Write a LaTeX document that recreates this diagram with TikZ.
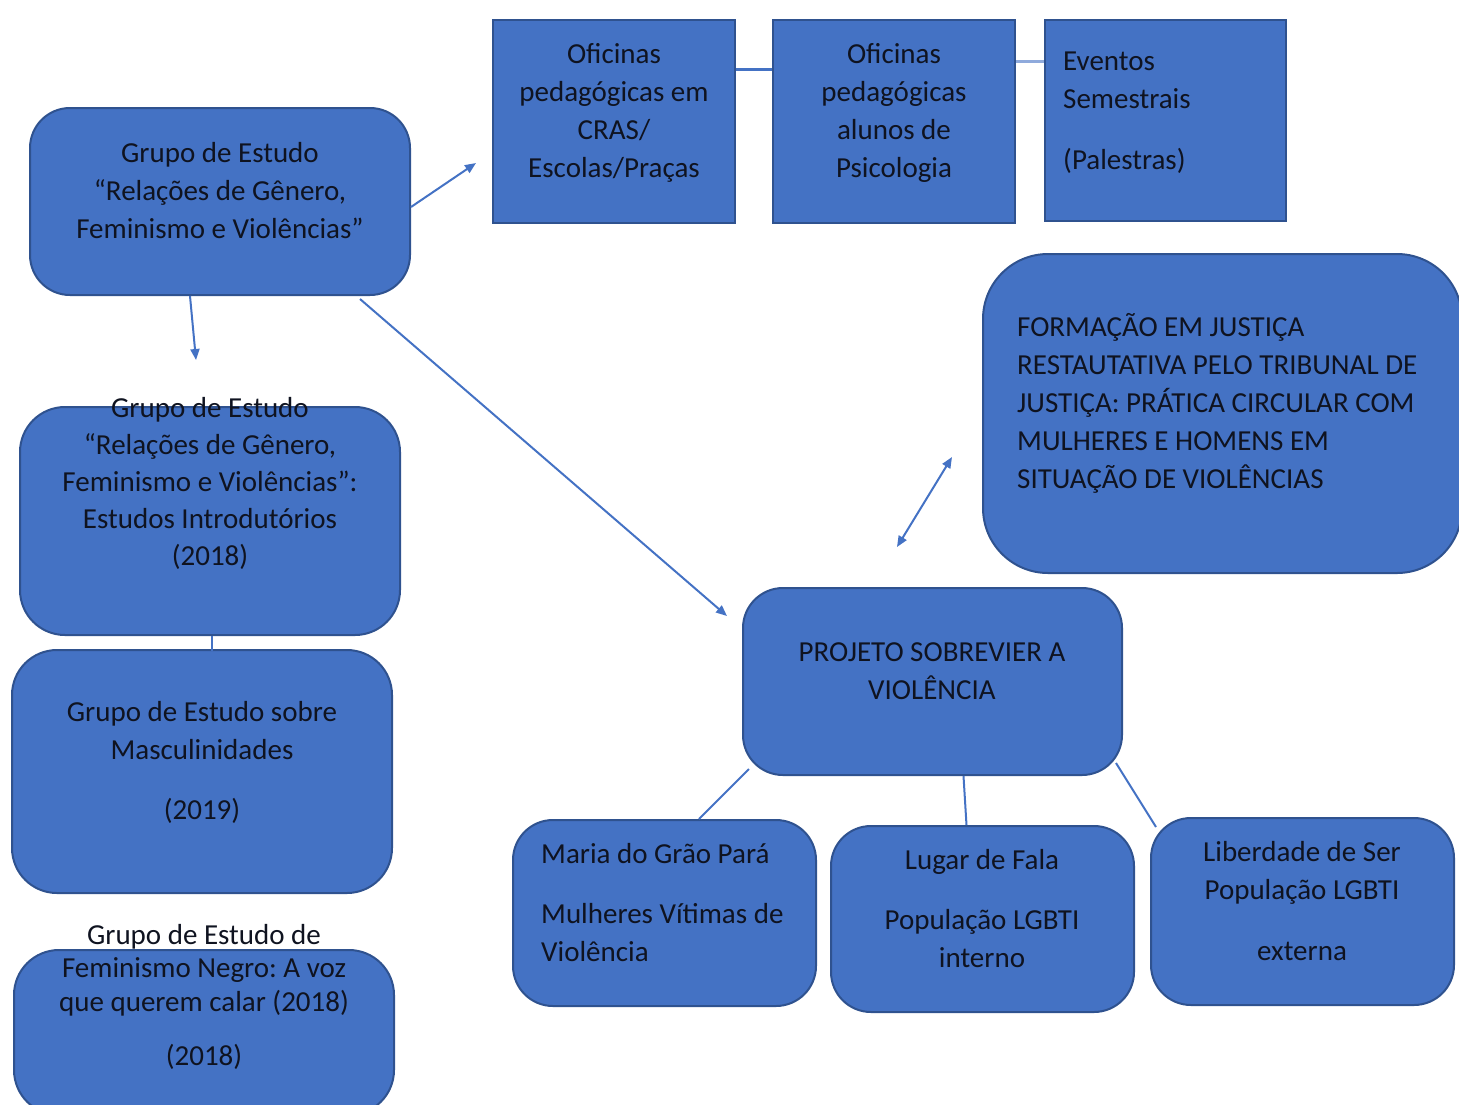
\documentclass[tikz,border=0pt]{standalone}
\usepackage{fontspec}
\setmainfont{Carlito}
\usetikzlibrary{arrows.meta,calc}
\definecolor{boxfill}{HTML}{4472C4}
\definecolor{boxline}{HTML}{2F528F}
\definecolor{connc}{HTML}{4472C4}
\definecolor{connlight}{HTML}{8FAADC}
\definecolor{txtc}{HTML}{0F1320}
\frenchspacing
\newcommand\mylines[2]{\begin{tabular}[t]{@{}#1@{}}#2\end{tabular}}
\begin{document}
\begin{tikzpicture}[x=1pt,y=-1pt,
  rbox/.style={draw=boxline, fill=boxfill, line width=2pt, rounded corners=#1, inner sep=0pt},
  sbox/.style={draw=boxline, fill=boxfill, line width=2pt, inner sep=0pt},
  txt/.style={anchor=base, inner sep=0pt, font=\fontsize{29}{38}\selectfont, text=txtc},
  txtl/.style={txt, anchor=base west},
  conn/.style={draw=connc, line width=2pt},
  arr/.style={conn, -{Triangle[length=11pt,width=9pt]}},
  darr/.style={conn, {Triangle[length=11pt,width=9pt]}-{Triangle[length=11pt,width=9pt]}}]
\useasboundingbox (0,0) rectangle (1459,1104);
\clip (0,0) rectangle (1459,1104);
% boxes
\node[rbox=40pt, minimum width=380pt, minimum height=187pt] (A) at (220,201.5) {};
\node[sbox, minimum width=242pt, minimum height=203pt] (B1) at (614,121.5) {};
\node[sbox, minimum width=242pt, minimum height=203pt] (B2) at (894,121.5) {};
\node[sbox, minimum width=241pt, minimum height=201pt] (B3) at (1165.5,120.5) {};
\node[rbox=65pt, minimum width=479pt, minimum height=319pt] (C) at (1222.5,413.5) {};
\node[rbox=45pt, minimum width=380pt, minimum height=228pt] (D) at (210,521) {};
\node[rbox=45pt, minimum width=380pt, minimum height=243pt] (E) at (202,771.5) {};
\node[rbox=45pt, minimum width=380pt, minimum height=165pt] (F) at (204,1032.5) {};
\node[rbox=40pt, minimum width=379pt, minimum height=187pt] (P) at (932.5,681.5) {};
\node[rbox=40pt, minimum width=303pt, minimum height=186pt] (M1) at (664.5,913) {};
\node[rbox=40pt, minimum width=303pt, minimum height=186pt] (M2) at (982.5,919) {};
\node[rbox=40pt, minimum width=303pt, minimum height=187pt] (M3) at (1302.5,911.5) {};
% free ends
\coordinate (a1) at (476,163);
\coordinate (a2) at (196,360);
\coordinate (a3) at (727,616);
\coordinate (c1) at (897,547);
\coordinate (c2) at (952,457);
% connectors
\draw[arr] ($(A.north east)+(0,100)$) -- (a1);
\draw[arr] ($(A.south)+(-30,0)$) -- (a2);
\draw[arr] ($(A.south)+(140,3)$) -- (a3);
\draw[darr] (c1) -- (c2);
\draw[conn, line width=3pt] ($(B1.north east)+(0,50)$) -- ($(B2.north west)+(0,50)$);
\draw[conn, draw=connlight, line width=3pt] ($(B2.north east)+(0,42)$) -- ($(B3.north west)+(0,42)$);
\draw[conn] ($(D.south)+(2,0)$) -- ($(D.south)+(2,15)$);
\draw[conn] ($(P.south west)+(7,-7)$) -- ($(M1.north west)+(187,0)$);
\draw[conn] ($(P.south)+(31,0)$) -- ($(M2.north)+(-16,0)$);
\draw[conn] ($(P.south east)+(-7,-13)$) -- ($(M3.north west)+(6,10)$);
% texts
\node[txt] (tA) at (220,162) {\mylines{c}{Grupo de Estudo\\“Relações de Gênero,\\Feminismo e Violências”}};
\node[txt] (tB1) at (614,63) {\mylines{c}{Oficinas\\pedagógicas em\\CRAS/\\Escolas/Praças}};
\node[txt] (tB2) at (894,63) {\mylines{c}{Oficinas\\pedagógicas\\alunos de\\Psicologia}};
\node[txtl] (tB3) at (1063,70) {\mylines{l}{Eventos\\Semestrais\\[23pt](Palestras)}};
\node[txtl] (tC) at (1017,336) {\mylines{l}{FORMAÇÃO EM JUSTIÇA\\RESTAUTATIVA PELO TRIBUNAL DE\\JUSTIÇA: PRÁTICA CIRCULAR COM\\MULHERES E HOMENS EM\\SITUAÇÃO DE VIOLÊNCIAS}};
\node[txt, font=\fontsize{29}{37}\selectfont] (tD) at (210,417) {\mylines{c}{Grupo de Estudo\\“Relações de Gênero,\\Feminismo e Violências”:\\Estudos Introdutórios\\(2018)}};
\node[txt] (tE) at (202,721) {\mylines{c}{Grupo de Estudo sobre\\Masculinidades\\[22pt](2019)}};
\node[txt, font=\fontsize{29}{33.5}\selectfont] (tF) at (204,944) {\mylines{c}{Grupo de Estudo de\\Feminismo Negro: A voz\\que querem calar (2018)\\[20.5pt](2018)}};
\node[txt] (tP) at (932,661) {\mylines{c}{PROJETO SOBREVIER A\\VIOLÊNCIA}};
\node[txtl] (tM1) at (541,863) {\mylines{l}{Maria do Grão Pará\\[22pt]Mulheres Vítimas de\\Violência}};
\node[txt] (tM2) at (982,869) {\mylines{c}{Lugar de Fala\\[22pt]População LGBTI\\interno}};
\node[txt] (tM3) at (1302,861) {\mylines{c}{Liberdade de Ser\\População LGBTI\\[23pt]externa}};
\end{tikzpicture}
\end{document}
